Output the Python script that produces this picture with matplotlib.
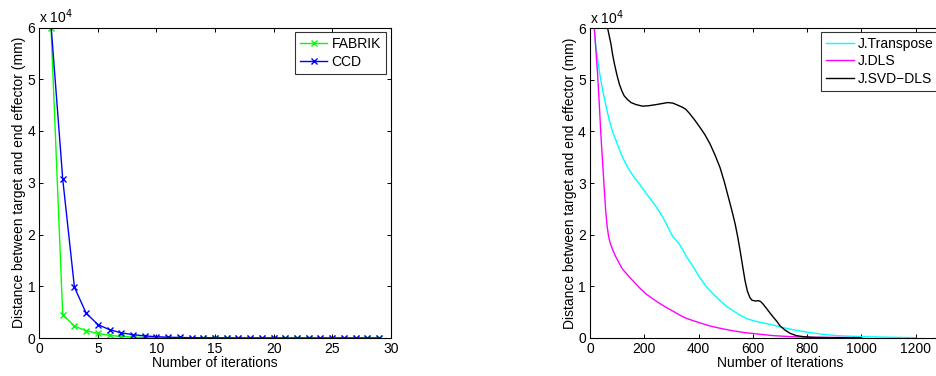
import numpy as np
import matplotlib
matplotlib.use('Agg')
import matplotlib.pyplot as plt

plt.rcParams['font.family'] = ['Liberation Sans', 'DejaVu Sans']

# left chart: iterations 1..29
iters = np.arange(1, 30)
fabrik = [6.0, 0.45, 0.23, 0.14, 0.09, 0.05, 0.03, 0.02, 0.01, 0.005,
          0.003, 0.002, 0.001, 0.001, 0, 0, 0, 0, 0, 0,
          0, 0, 0, 0, 0, 0, 0, 0, 0]
ccd = [6.05, 3.07, 0.98, 0.48, 0.26, 0.16, 0.10, 0.065, 0.04, 0.025,
       0.015, 0.01, 0.006, 0.004, 0.003, 0.002, 0.001, 0.001, 0.001, 0.001,
       0, 0, 0, 0, 0, 0, 0, 0, 0]

# right chart (values x 1e4)
tr_x = [14, 16, 20, 27, 34, 43, 53, 62, 71, 83, 96, 108, 120, 132, 145, 163,
        182, 200, 218, 237, 255, 268, 280, 292, 304, 317, 331, 356, 381, 405,
        430, 455, 479, 503, 528, 552, 577, 602, 626, 663, 700, 743, 786, 850,
        909, 1000, 1100, 1200]
tr_y = [6.05, 6.0, 5.72, 5.44, 5.18, 4.90, 4.64, 4.42, 4.22, 4.00, 3.82, 3.65,
        3.50, 3.37, 3.25, 3.11, 2.98, 2.85, 2.72, 2.59, 2.45, 2.34, 2.22, 2.09,
        1.97, 1.89, 1.80, 1.57, 1.37, 1.16, 0.98, 0.84, 0.72, 0.61, 0.52, 0.44,
        0.37, 0.33, 0.30, 0.26, 0.21, 0.16, 0.12, 0.07, 0.04, 0.02, 0.01, 0.0]
dls_x = [10, 16, 22, 28, 34, 40, 47, 53, 58, 63, 68, 74, 84, 96, 108, 120,
         138, 157, 180, 206, 230, 255, 280, 304, 330, 353, 380, 410, 440, 473,
         520, 568, 620, 675, 740, 800, 900, 1000]
dls_y = [6.1, 6.0, 5.55, 5.11, 4.55, 3.95, 3.35, 2.85, 2.45, 2.17, 1.98, 1.84,
         1.70, 1.56, 1.44, 1.33, 1.22, 1.11, 0.98, 0.85, 0.76, 0.67, 0.59, 0.52,
         0.44, 0.38, 0.33, 0.28, 0.23, 0.19, 0.14, 0.10, 0.07, 0.04, 0.02, 0.01,
         0.005, 0.0]
svd_x = [60, 65, 71, 77, 83, 90, 99, 108, 117, 126, 138, 151, 170, 194, 218,
         243, 265, 286, 305, 323, 340, 353, 368, 386, 405, 423, 442, 460, 479,
         495, 510, 523, 535, 544, 553, 562, 571, 580, 589, 596, 602, 611, 620,
         629, 638, 650, 663, 675, 688, 700, 718, 737, 760, 786, 823, 900, 1000]
svd_y = [6.1, 6.0, 5.85, 5.70, 5.50, 5.31, 5.10, 4.92, 4.79, 4.69, 4.62, 4.56,
         4.52, 4.49, 4.50, 4.52, 4.54, 4.56, 4.55, 4.51, 4.47, 4.43, 4.34, 4.22,
         4.08, 3.94, 3.76, 3.55, 3.30, 3.02, 2.72, 2.46, 2.20, 1.96, 1.69, 1.40,
         1.11, 0.90, 0.78, 0.73, 0.72, 0.71, 0.72, 0.70, 0.65, 0.57, 0.48, 0.40,
         0.32, 0.23, 0.15, 0.085, 0.04, 0.02, 0.005, 0.0, 0.0]

W, H = 936, 376
fig = plt.figure(figsize=(W / 100, H / 100), dpi=100)

ax1 = fig.add_axes([39.3 / W, 38 / H, 351.4 / W, 310.5 / H])
ax2 = fig.add_axes([590 / W, 38.3 / H, 380 / W, 309.4 / H])

fs = 10
leg_kw = dict(fontsize=fs, frameon=True, fancybox=False, handlelength=2.0,
              handletextpad=0.3, labelspacing=0.25, borderpad=0.35)

ax1.plot(iters, fabrik, color=(0, 1, 0), lw=1.0, marker='x', ms=4, mew=1.0, label='FABRIK')
ax1.plot(iters, ccd, color=(0, 0, 1), lw=1.0, marker='x', ms=4, mew=1.0, label='CCD')
ax1.set_xlim(0, 30)
ax1.set_xticks([0, 5, 10, 15, 20, 25, 30])
ax1.set_xlabel('Number of iterations', fontsize=fs, labelpad=0)
leg1 = ax1.legend(loc='upper right', borderaxespad=0.35, **leg_kw)

ax2.plot(tr_x, tr_y, color='cyan', lw=1.0, label='J.Transpose')
ax2.plot(dls_x, dls_y, color='magenta', lw=1.0, label='J.DLS')
ax2.plot(svd_x, svd_y, color='black', lw=1.0, label='J.SVD\u2212DLS')
ax2.set_xlim(0, 1400)
ax2.set_xticks(range(0, 1401, 200))
ax2.set_xticklabels(['0', '200', '400', '600', '800', '1000', '1200', ''])
ax2.set_xlabel('Number of Iterations', fontsize=fs, labelpad=0)
leg2 = ax2.legend(loc='upper left', bbox_to_anchor=(821 / W, 1 - 32 / H),
                  bbox_transform=fig.transFigure, borderaxespad=0, **leg_kw)

for ax, leg in ((ax1, leg1), (ax2, leg2)):
    ax.set_ylim(0, 6)
    ax.set_yticks(range(0, 7))
    ax.set_ylabel('Distance between target and end effector (mm)', fontsize=fs, labelpad=1)
    ax.tick_params(direction='in', length=3, width=0.7, labelsize=fs, pad=3,
                   top=True, right=True)
    for sp in ax.spines.values():
        sp.set_linewidth(0.8)
    ax.text(0.0, 1.005, 'x 10$^{4}$', transform=ax.transAxes, fontsize=fs,
            ha='left', va='bottom')
    frame = leg.get_frame()
    frame.set_edgecolor('black')
    frame.set_linewidth(0.8)

fig.savefig('out.png', dpi=100)
